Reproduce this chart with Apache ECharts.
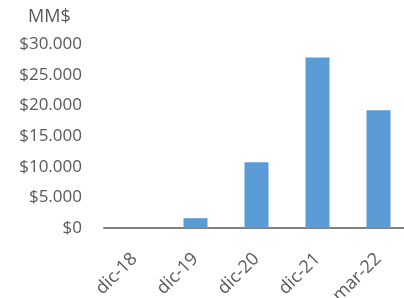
<!DOCTYPE html>
<html>
<head>
<meta charset="utf-8">
<script src="https://cdn.jsdelivr.net/npm/echarts@6/dist/echarts.min.js"></script>
<style>
  html, body { margin: 0; padding: 0; background: #fff; }
  #chart { width: 404px; height: 298px; }
</style>
</head>
<body>
<div id="chart"></div>
<script>
const categories = ["dic-18", "dic-19", "dic-20", "dic-21", "mar-22"];
const values = [0, 1600, 10700, 27800, 19200];
const yTicks = [0, 5000, 10000, 15000, 20000, 25000, 30000];

const textColor = "#595959";
const fontFamily = "'Open Sans', 'Noto Sans', sans-serif";

function formatMoney(value) {
  return "$" + String(value).replace(/\B(?=(\d{3})+(?!\d))/g, ".");
}

const chart = echarts.init(document.getElementById("chart"));

chart.setOption({
  animation: false,
  graphic: [{
    type: "text",
    left: 28,
    top: 8,
    style: { text: "MM$", fill: textColor, font: `18px ${fontFamily}` },
  }],
  grid: { left: 104, width: 305, top: 44, height: 184, outerBoundsMode: "none" },
  xAxis: {
    type: "category",
    data: categories,
    axisLine: { lineStyle: { color: "#808080", width: 2 } },
    axisTick: { show: false },
    axisLabel: {
      rotate: 45,
      margin: 28,
      color: textColor,
      fontSize: 18,
      fontFamily,
    },
  },
  yAxis: {
    type: "value",
    min: yTicks[0],
    max: yTicks[yTicks.length - 1],
    interval: 5000,
    splitLine: { show: false },
    axisLine: { show: false },
    axisTick: { show: false },
    axisLabel: {
      margin: 22,
      color: textColor,
      fontSize: 17,
      fontFamily,
      formatter: formatMoney,
    },
  },
  series: [{
    type: "bar",
    data: values,
    barWidth: 24,
    itemStyle: { color: "#5B9BD5" },
  }],
});
</script>
</body>
</html>
